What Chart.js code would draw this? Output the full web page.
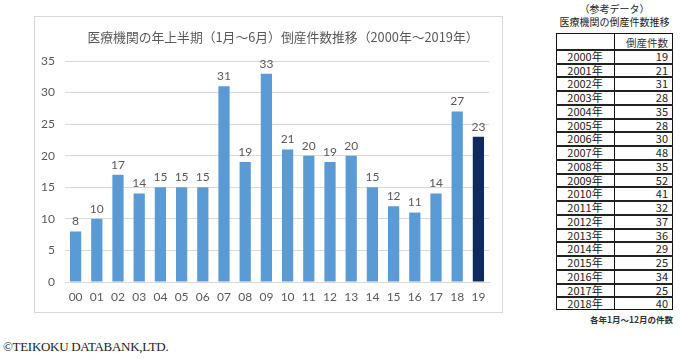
<!DOCTYPE html>
<html>
<head>
<meta charset="utf-8">
<script src="https://cdn.jsdelivr.net/npm/chart.js@4.4.1/dist/chart.umd.min.js"></script>
<style>
  html, body { margin: 0; padding: 0; background: #fff; }
  body { width: 680px; height: 359px; position: relative; overflow: hidden; font-family: "Noto Sans CJK JP", sans-serif; }
  #box { position: absolute; left: 34px; top: 16px; width: 467px; height: 295px; border: 1px solid #d9d9d9; box-sizing: content-box; }
  #box canvas { position: absolute; left: 0; top: 0; }
  .t { position: absolute; white-space: nowrap; color: #222; }
  #copy { position: absolute; left: 3px; top: 339px; font-family: "Liberation Serif", serif; font-size: 13px; color: #222; letter-spacing: -0.3px; }
</style>
</head>
<body>
<div id="box"><canvas id="c" width="467" height="295"></canvas></div>
<div id="tbl"></div>
<div id="copy">©TEIKOKU DATABANK,LTD.</div>
<script>
// ---- chart data ----
const categories = ["00","01","02","03","04","05","06","07","08","09","10","11","12","13","14","15","16","17","18","19"];
const halfYearCounts = [8,10,17,14,15,15,15,31,19,33,21,20,19,20,15,12,11,14,27,23];
const yTicks = [0,5,10,15,20,25,30,35];
const chartTitle = "医療機関の年上半期（1月～6月）倒産件数推移（2000年～2019年）";

// ---- reference table data ----
const tableYears = ["2000年","2001年","2002年","2003年","2004年","2005年","2006年","2007年","2008年","2009年","2010年","2011年","2012年","2013年","2014年","2015年","2016年","2017年","2018年"];
const tableCounts = [19,21,31,28,35,28,30,48,35,52,41,32,37,36,29,25,34,25,40];
const tableTitle1 = "（参考データ）";
const tableTitle2 = "医療機関の倒産件数推移";
const tableHeader = "倒産件数";
const tableNote = "各年1月～12月の件数";

const LIGHT = "#5b9bd5", DARK = "#0e2a5e", GREY = "#595959";
const numFont = "Lato, 'Noto Sans CJK JP', sans-serif";

const valueLabels = {
  id: "valueLabels",
  afterDatasetsDraw(chart) {
    const ctx = chart.ctx;
    const meta = chart.getDatasetMeta(0);
    ctx.save();
    ctx.font = "12px " + numFont;
    ctx.fillStyle = GREY;
    ctx.textAlign = "center";
    ctx.textBaseline = "bottom";
    meta.data.forEach((bar, i) => {
      ctx.fillText(String(chart.data.datasets[0].data[i]), bar.x, bar.y - 4);
    });
    ctx.restore();
  }
};

const titleDraw = {
  id: "titleDraw",
  afterDraw(chart) {
    const ctx = chart.ctx;
    ctx.save();
    ctx.font = "12.8px 'Noto Sans CJK JP', sans-serif";
    ctx.fillStyle = GREY;
    ctx.textAlign = "center";
    ctx.textBaseline = "middle";
    ctx.fillText(chartTitle, 248, 20);
    ctx.restore();
  }
};

new Chart(document.getElementById("c"), {
  type: "bar",
  data: {
    labels: categories,
    datasets: [{
      data: halfYearCounts,
      backgroundColor: halfYearCounts.map((v, i) => i === halfYearCounts.length - 1 ? DARK : LIGHT),
      barPercentage: 0.53,
      categoryPercentage: 1.0
    }]
  },
  options: {
    responsive: false,
    animation: false,
    layout: { padding: { left: 0, right: 13, top: 44, bottom: 0 } },
    plugins: {
      legend: { display: false },
      tooltip: { enabled: false },
      title: { display: false }
    },
    scales: {
      x: {
        grid: { display: false, drawTicks: false },
        border: { color: "#d9d9d9" },
        ticks: { color: GREY, font: { family: numFont, size: 12 }, padding: 8, maxRotation: 0, autoSkip: false },
        afterFit(s) { s.height = 30; }
      },
      y: {
        min: 0, max: 35,
        afterBuildTicks(s) { s.ticks = yTicks.map(v => ({ value: v })); },
        grid: { color: "#d9d9d9", drawTicks: false },
        border: { display: false },
        ticks: { color: GREY, font: { family: numFont, size: 12 }, padding: 10 },
        afterFit(s) { s.width = 30; }
      }
    }
  },
  plugins: [valueLabels, titleDraw]
});

// ---- reference table (HTML) ----
(function () {
  const tbl = document.getElementById("tbl");
  const L = 556, R = 673, MID = 614, TOP = 33, HEAD = 16, ROW = 13.74;
  const add = (html, css) => { const d = document.createElement("div"); d.className = "t"; d.innerHTML = html; d.style.cssText += css; tbl.appendChild(d); return d; };
  add(tableTitle1, `left:${L}px;width:${R-L}px;top:1px;text-align:center;font-size:10px;`);
  add(tableTitle2, `left:${L-6}px;width:${R-L+12}px;top:14px;text-align:center;font-size:10px;`);
  const bottom = Math.round(TOP + HEAD + ROW * tableYears.length);
  // outer border
  add("", `left:${L}px;top:${TOP}px;width:${R-L}px;height:${bottom-TOP}px;border:1.5px solid #111;box-sizing:border-box;`);
  // column divider
  add("", `left:${MID}px;top:${TOP}px;width:1px;height:${bottom-TOP}px;background:#111;`);
  add(tableHeader, `left:${MID}px;width:${R-MID-5}px;top:${TOP+2}px;text-align:right;font-size:10.5px;color:#333;`);
  tableYears.forEach((y, i) => {
    const top = Math.round(TOP + HEAD + ROW * i);
    add("", `left:${L}px;top:${top}px;width:${R-L}px;height:1.5px;background:#222;`);
    add(y, `left:${L}px;width:${MID-L}px;top:${top+1}px;text-align:center;font-size:11px;line-height:13px;`);
    add(String(tableCounts[i]), `left:${MID}px;width:${R-MID-5}px;top:${top+1}px;text-align:right;font-size:11px;line-height:13px;`);
  });
  add(tableNote, `left:${L-20}px;width:${R-L+20}px;top:${bottom+3}px;text-align:right;font-size:8.5px;font-weight:bold;color:#333;`);
})();
</script>
</body>
</html>
